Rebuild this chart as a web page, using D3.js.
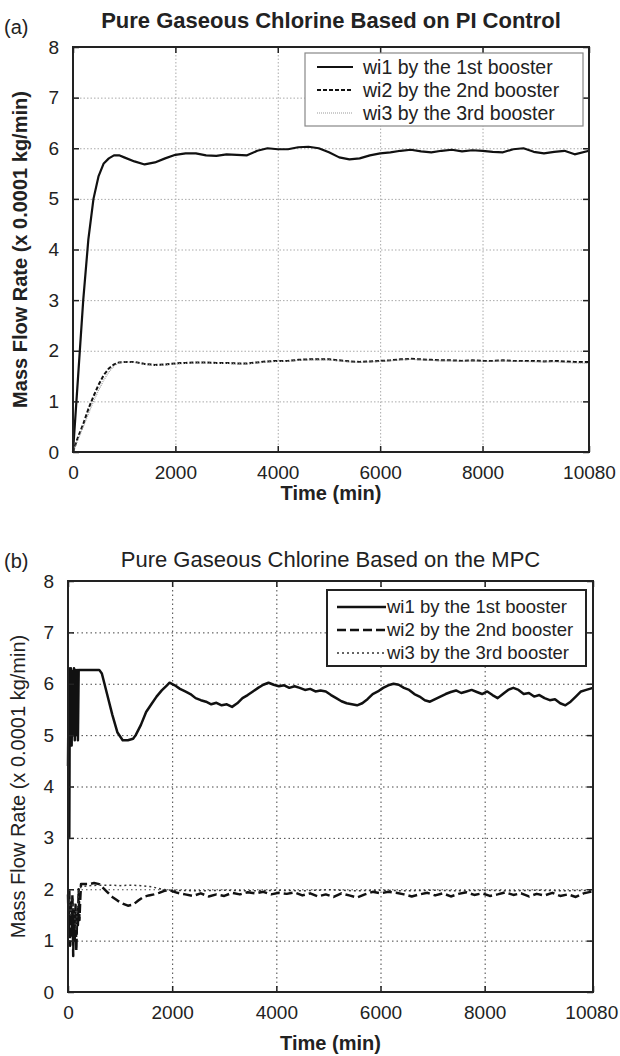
<!DOCTYPE html>
<meta charset="utf-8">
<script src="https://d3js.org/d3.v7.min.js"></script>
<style>
  body { margin: 0; background: #fff; }
  text { font-family: "Liberation Sans", Arial, sans-serif; fill: #222; }
</style>
<div id="chart"></div>
<script>
// ---------- data (a) PI control ----------
const piTime = [0,100,200,300,400,500,600,700,800,900,1000,1200,1400,1600,1800,2000,2200,2400,2600,2800,3000,3200,3400,3600,3800,4000,4200,4400,4600,4800,5000,5200,5400,5600,5800,6000,6200,6400,6600,6800,7000,7200,7400,7600,7800,8000,8200,8400,8600,8800,9000,9200,9400,9600,9800,10080];
const piW1 = [0,1.5,3.0,4.2,5.0,5.45,5.7,5.8,5.86,5.86,5.82,5.74,5.68,5.72,5.8,5.87,5.9,5.9,5.86,5.85,5.88,5.87,5.86,5.95,6.0,5.98,5.98,6.02,6.03,6.0,5.92,5.82,5.78,5.8,5.86,5.9,5.92,5.95,5.97,5.94,5.92,5.95,5.97,5.94,5.96,5.95,5.93,5.92,5.98,6.0,5.93,5.9,5.93,5.95,5.88,5.95];
const piW2 = [0,0.3,0.55,0.85,1.1,1.33,1.52,1.65,1.73,1.77,1.78,1.78,1.74,1.72,1.73,1.75,1.76,1.77,1.77,1.76,1.76,1.75,1.75,1.77,1.79,1.8,1.8,1.82,1.83,1.83,1.83,1.81,1.79,1.78,1.79,1.8,1.81,1.83,1.84,1.83,1.82,1.81,1.81,1.8,1.81,1.8,1.8,1.81,1.8,1.8,1.8,1.79,1.8,1.79,1.78,1.78];
const piW3 = [0,0.25,0.5,0.75,1.0,1.22,1.42,1.58,1.7,1.76,1.78,1.77,1.73,1.71,1.72,1.74,1.75,1.76,1.76,1.75,1.75,1.74,1.74,1.76,1.78,1.79,1.79,1.81,1.82,1.82,1.82,1.8,1.78,1.77,1.78,1.79,1.8,1.82,1.83,1.82,1.81,1.8,1.8,1.79,1.8,1.79,1.79,1.8,1.79,1.79,1.78,1.78,1.78,1.77,1.76,1.75];

// ---------- data (b) MPC ----------
const mpcTime1 = [0,15,25,35,45,55,70,85,100,115,130,145,160,175,190,205,300,400,500,600,650,750,850,950,1050,1150,1250,1300,1400,1500,1600,1700,1800,1900,1950,2050,2150,2250,2350,2450,2550,2650,2750,2850,2950,3050,3150,3250,3350,3450,3550,3650,3750,3850,3950,4050,4150,4250,4350,4450,4550,4650,4750,4850,4950,5050,5150,5250,5350,5450,5550,5650,5750,5850,5950,6050,6150,6250,6350,6450,6550,6650,6750,6850,6950,7050,7150,7250,7350,7450,7550,7650,7750,7850,7950,8050,8150,8250,8350,8450,8550,8650,8750,8850,8950,9050,9150,9250,9350,9450,9550,9650,9750,9850,9950,10080];
const mpcW1 = [4.4,6.3,3.0,6.2,4.9,6.3,4.8,6.25,5.0,6.3,4.9,6.27,5.0,6.27,4.9,6.27,6.27,6.27,6.27,6.27,6.2,5.8,5.4,5.05,4.9,4.9,4.93,5.0,5.2,5.45,5.6,5.75,5.87,5.97,6.02,5.97,5.9,5.85,5.8,5.72,5.68,5.65,5.6,5.63,5.58,5.6,5.55,5.62,5.72,5.78,5.85,5.92,5.98,6.02,5.98,5.95,5.97,5.92,5.95,5.92,5.88,5.9,5.85,5.87,5.85,5.78,5.72,5.66,5.62,5.6,5.58,5.62,5.7,5.8,5.85,5.92,5.97,6.0,5.98,5.92,5.88,5.8,5.75,5.68,5.65,5.7,5.75,5.8,5.84,5.87,5.82,5.85,5.88,5.84,5.8,5.85,5.78,5.72,5.8,5.88,5.92,5.88,5.8,5.82,5.75,5.78,5.72,5.68,5.7,5.62,5.58,5.65,5.75,5.85,5.88,5.92];
const mpcTime2 = [0,15,25,40,55,70,85,100,115,130,145,160,175,190,205,220,235,250,300,400,500,600,650,750,850,950,1050,1150,1250,1350,1450,1550,1650,1750,1850,1950,2100,2250,2400,2550,2700,2850,3000,3150,3300,3450,3600,3750,3900,4050,4200,4350,4500,4650,4800,4950,5100,5250,5400,5550,5700,5850,6000,6150,6300,6450,6600,6750,6900,7050,7200,7350,7500,7650,7800,7950,8100,8250,8400,8550,8700,8850,9000,9150,9300,9450,9600,9750,9900,10080];
const mpcW2 = [1.9,1.2,2.0,0.9,1.8,1.1,1.9,0.7,1.6,1.0,1.7,0.8,1.5,1.3,2.0,1.4,1.8,2.1,2.1,2.1,2.12,2.1,2.05,1.95,1.85,1.78,1.72,1.68,1.7,1.78,1.85,1.88,1.9,1.93,1.97,1.98,1.93,1.9,1.87,1.92,1.86,1.9,1.87,1.93,1.9,1.94,1.92,1.95,1.9,1.93,1.91,1.94,1.88,1.92,1.86,1.9,1.85,1.92,1.88,1.84,1.9,1.95,1.92,1.95,1.93,1.9,1.86,1.9,1.93,1.88,1.92,1.86,1.91,1.94,1.89,1.92,1.87,1.9,1.94,1.89,1.92,1.86,1.91,1.88,1.93,1.87,1.9,1.85,1.92,1.96];
const mpcTime3 = [0,50,100,150,200,250,400,600,800,1000,1200,1400,1600,1800,2000,2500,3000,3500,4000,4500,5000,5500,6000,6500,7000,7500,8000,8500,9000,9500,10080];
const mpcW3 = [2.0,1.5,1.8,1.2,1.9,2.05,2.07,2.08,2.08,2.07,2.08,2.07,2.05,2.0,1.98,1.97,1.98,1.97,1.98,1.97,1.99,1.97,1.98,1.97,1.98,1.97,1.98,1.97,1.98,1.97,1.98];

const xTicks = [0, 2000, 4000, 6000, 8000, 10080];
const yTicks = [0, 1, 2, 3, 4, 5, 6, 7, 8];
const legendLabels = ["wi1 by the 1st booster", "wi2 by the 2nd booster", "wi3 by the 3rd booster"];

const svg = d3.select("#chart").append("svg")
  .attr("width", 620).attr("height", 1056);

function drawPanel(p) {
  const x = d3.scaleLinear().domain([0, 10080]).range([p.left, p.right]);
  const y = d3.scaleLinear().domain([0, 8]).range([p.bottom, p.top]);
  const g = svg.append("g");

  // grid
  g.append("g").attr("transform", `translate(0,${p.bottom})`)
    .call(d3.axisBottom(x).tickValues(xTicks.slice(1, -1)).tickSize(p.top - p.bottom).tickFormat(""))
    .call(a => a.select(".domain").remove())
    .selectAll("line").attr("stroke", p.gridColor).attr("stroke-dasharray", p.gridDash);
  g.append("g").attr("transform", `translate(${p.left},0)`)
    .call(d3.axisLeft(y).tickValues(yTicks.slice(1, -1)).tickSize(p.left - p.right).tickFormat(""))
    .call(a => a.select(".domain").remove())
    .selectAll("line").attr("stroke", p.gridColor).attr("stroke-dasharray", p.gridDash);

  // lines
  const line = (ts, vs) => d3.line().x((d, i) => x(ts[i])).y(d => y(d))(vs);
  p.series.forEach(s => {
    g.append("path").attr("d", line(s.t, s.v))
      .attr("fill", "none").attr("stroke", s.color).attr("stroke-width", s.width)
      .attr("stroke-dasharray", s.dash).attr("stroke-linejoin", "round");
  });

  // axes with inward ticks
  const ax = g.append("g").attr("transform", `translate(0,${p.bottom})`)
    .call(d3.axisBottom(x).tickValues(xTicks).tickFormat(d3.format("d"))
      .tickSizeInner(-6).tickSizeOuter(0).tickPadding(14));
  const ay = g.append("g").attr("transform", `translate(${p.left},0)`)
    .call(d3.axisLeft(y).tickValues(yTicks).tickFormat(d3.format("d"))
      .tickSizeInner(-6).tickSizeOuter(0).tickPadding(14));
  g.append("g").attr("transform", `translate(0,${p.top})`)
    .call(d3.axisTop(x).tickValues(xTicks).tickSizeInner(-6).tickSizeOuter(0).tickFormat(""));
  g.append("g").attr("transform", `translate(${p.right},0)`)
    .call(d3.axisRight(y).tickValues(yTicks).tickSizeInner(-6).tickSizeOuter(0).tickFormat(""));
  g.selectAll(".domain").remove();
  g.selectAll(".tick line").filter(function () { return !this.getAttribute("stroke-dasharray"); })
    .attr("stroke", "#222").attr("stroke-width", 1.5);
  [ax, ay].forEach(a => a.selectAll("text").style("font-size", "19px").attr("fill", "#333"));
  // keep the last x label inside the page
  ax.selectAll("text").filter(d => d === 10080 && p.right > 590).attr("text-anchor", "end").attr("dx", "1.3em");

  // box
  g.append("rect").attr("x", p.left).attr("y", p.top)
    .attr("width", p.right - p.left).attr("height", p.bottom - p.top)
    .attr("fill", "none").attr("stroke", "#222").attr("stroke-width", 2);

  // titles
  svg.append("text").attr("x", 4).attr("y", p.tagY).text(p.tag).style("font-size", "20px");
  svg.append("text").attr("x", (p.left + p.right) / 2).attr("y", p.titleY)
    .attr("text-anchor", "middle").text(p.title)
    .style("font-size", "22px").style("font-weight", p.titleWeight);
  svg.append("text").attr("x", (p.left + p.right) / 2).attr("y", p.xLabelY)
    .attr("text-anchor", "middle").text("Time (min)")
    .style("font-size", "20px").style("font-weight", "bold");
  svg.append("text")
    .attr("transform", `translate(${p.yLabelX},${(p.top + p.bottom) / 2}) rotate(-90)`)
    .attr("text-anchor", "middle").text("Mass Flow Rate (x 0.0001 kg/min)")
    .style("font-size", "20px").style("font-weight", p.yLabelWeight);

  // legend
  const L = p.legend;
  g.append("rect").attr("x", L.x).attr("y", L.y).attr("width", L.w).attr("height", L.h)
    .attr("fill", "#fff").attr("stroke", L.stroke).attr("stroke-width", L.strokeWidth);
  p.series.forEach((s, i) => {
    const cy = L.y + L.first + i * L.step;
    g.append("line").attr("x1", L.lx1).attr("x2", L.lx2).attr("y1", cy).attr("y2", cy)
      .attr("stroke", s.color).attr("stroke-width", s.width).attr("stroke-dasharray", s.dash);
    g.append("text").attr("x", L.tx).attr("y", cy).attr("dy", "0.35em")
      .text(legendLabels[i]).style("font-size", L.font);
  });
}

drawPanel({
  left: 73, right: 589, top: 47, bottom: 452,
  gridColor: "#aaa", gridDash: "1.5,2",
  tag: "(a)", tagY: 34, title: "Pure Gaseous Chlorine Based on PI Control", titleY: 28, titleWeight: "bold",
  xLabelY: 500, yLabelX: 27, yLabelWeight: "bold",
  series: [
    { t: piTime, v: piW1, color: "#111", width: 2.2, dash: null },
    { t: piTime, v: piW2, color: "#111", width: 2, dash: "4,2" },
    { t: piTime, v: piW3, color: "#999", width: 1.2, dash: "1,1" }
  ],
  legend: { x: 305, y: 53, w: 278, h: 73, first: 14, step: 23, lx1: 317, lx2: 353, tx: 363,
    font: "19.5px", stroke: "#888", strokeWidth: 1.2 }
});

drawPanel({
  left: 68, right: 593, top: 581, bottom: 992,
  gridColor: "#444", gridDash: "1.5,3",
  tag: "(b)", tagY: 568, title: "Pure Gaseous Chlorine Based on the MPC", titleY: 567, titleWeight: "normal",
  xLabelY: 1050, yLabelX: 25, yLabelWeight: "normal",
  series: [
    { t: mpcTime1, v: mpcW1, color: "#111", width: 2.5, dash: null },
    { t: mpcTime2, v: mpcW2, color: "#111", width: 2.5, dash: "9,4" },
    { t: mpcTime3, v: mpcW3, color: "#333", width: 1.5, dash: "2,3" }
  ],
  legend: { x: 327, y: 590, w: 259, h: 76, first: 17, step: 23, lx1: 337, lx2: 386, tx: 387,
    font: "18.5px", stroke: "#222", strokeWidth: 2 }
});
</script>
